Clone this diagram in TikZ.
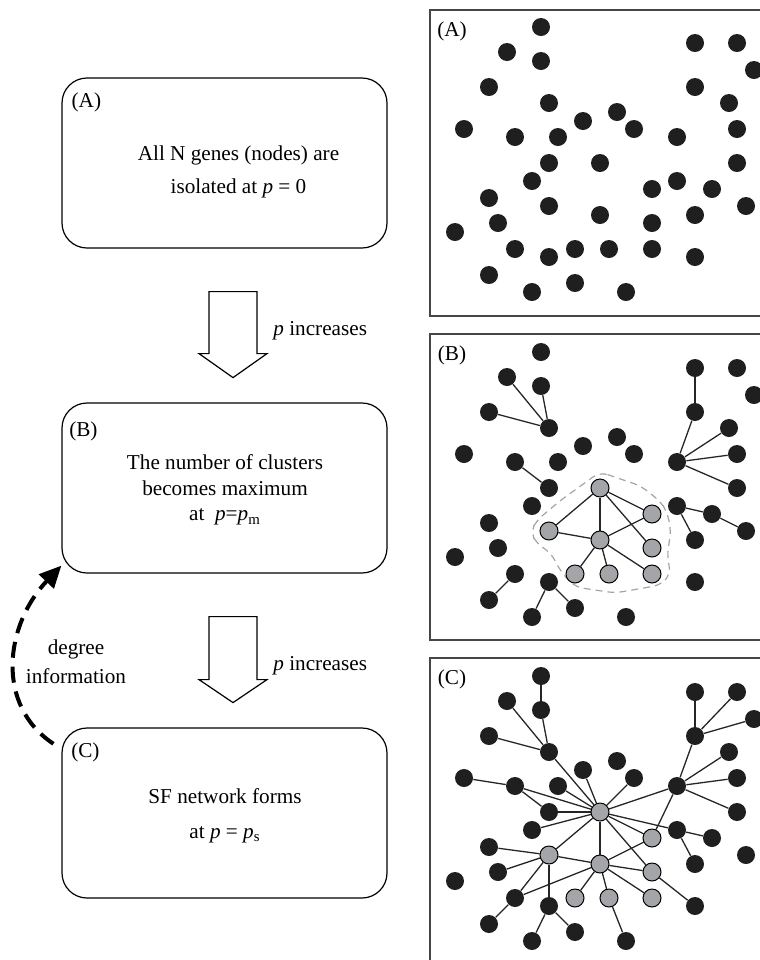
\documentclass[tikz,border=0pt]{standalone}
\usepackage{fontspec}
\setmainfont{Liberation Serif}
\usetikzlibrary{arrows.meta, positioning, backgrounds, calc}
\definecolor{grisNodo}{RGB}{163,165,168}
\definecolor{grisMarco}{RGB}{70,70,70}
\definecolor{grisCasco}{RGB}{165,165,165}
% posiciones de los genes (en px de la figura, panel A)
\newcommand{\genesNegros}{1/541/27, 2/507/52, 3/541/61, 4/695/43, 5/737/43,
  6/754/70, 7/489/87, 8/695/87, 9/549/103, 10/729/103, 11/617/112,
  12/583/121, 13/464/129, 14/634/129, 15/737/129, 16/515/137, 17/558/137,
  18/677/137, 19/549/163, 21/737/163, 22/532/181, 23/677/181, 25/712/189,
  26/489/198, 28/746/206, 30/695/215, 31/498/223, 33/455/232, 34/515/249,
  38/549/257, 39/695/257, 40/489/275, 41/575/283, 42/532/292, 43/626/292}
\newcommand{\genesGrises}{20/600/163, 24/652/189, 27/549/206, 29/600/215,
  32/652/223, 35/575/249, 36/609/249, 37/652/249}
\tikzset{
  sf/box/.style={rectangle, rounded corners=12.5pt, draw=black,
    line width=0.6pt, minimum width=162.5pt, minimum height=85pt},
  sf/txt/.style={font=\fontsize{10.6}{16.5}\selectfont, align=center,
    inner sep=0pt},
  sf/tag/.style={font=\fontsize{10.6}{12}\selectfont, inner sep=0pt},
  sf/gene/.style={circle, fill=black!88, inner sep=0pt, minimum size=9pt},
  sf/hub/.style={circle, fill=grisNodo, draw=black, line width=0.5pt,
    inner sep=0pt, minimum size=9pt},
  sf/link/.style={line width=0.65pt, draw=black!85},
  sf/panel/.style={draw=grisMarco, line width=0.6pt},
  sf/hull/.style={draw=grisCasco, line width=0.6pt,
    dash pattern=on 3.5pt off 2.5pt, rounded corners=4pt},
  sf/fat/.style={draw=black, fill=white, line width=0.6pt},
  sf/back/.style={-{Triangle[length=11pt,width=10pt]}, line width=2pt,
    dash pattern=on 8pt off 4.5pt}
}

\begin{document}
\begin{tikzpicture}[x=0.5pt, y=-0.5pt]
  \useasboundingbox (0,0) rectangle (760,960);

  % Columna izquierda: tres etapas
  \node[sf/box] at (224.5,163) (boxA) {};
  \node[sf/box] at (224.5,488) (boxB) {};
  \node[sf/box] at (224.5,813) (boxC) {};

  \node[sf/tag] at ($(boxA.north west)+(25,25)$) (tagBoxA) {(A)};
  \node[sf/tag] at ($(boxB.north west)+(22,29)$) (tagBoxB) {(B)};
  \node[sf/tag] at ($(boxC.north west)+(24,25)$) (tagBoxC) {(C)};

  \node[sf/txt] at ($(boxA.center)+(14,9)$) (txtA)
        {All N genes (nodes) are\\isolated at \textit{p} = 0};
  \node[sf/txt, font=\fontsize{10.6}{12.8}\selectfont]
        at ($(boxB.center)+(0.5,2)$) (txtB)
        {The number of clusters\\becomes maximum\\
         at\ \ \textit{p}=\textit{p}\textsubscript{m}};
  \node[sf/txt, font=\fontsize{10.6}{17.5}\selectfont]
        at ($(boxC.center)+(0.5,2.5)$) (txtC)
        {SF network forms\\at \textit{p} = \textit{p}\textsubscript{s}};

  % Flechas gruesas entre etapas
  \coordinate (arrAB) at ($(boxA.south)+(8.5,43)$);
  \coordinate (arrBC) at ($(boxB.south)+(8.5,43)$);
  \draw[sf/fat] (arrAB) ++(-24,0) -- ++(48,0) -- ++(0,62) -- ++(10,0)
        -- ++(-34,24) -- ++(-34,-24) -- ++(10,0) -- cycle;
  \draw[sf/fat] (arrBC) ++(-24,0) -- ++(48,0) -- ++(0,63) -- ++(10,0)
        -- ++(-34,23) -- ++(-34,-23) -- ++(10,0) -- cycle;
  \node[sf/tag, anchor=west] at ($(arrAB)+(40,39)$) (incAB)
        {\textit{p} increases};
  \node[sf/tag, anchor=west] at ($(arrBC)+(40,49)$) (incBC)
        {\textit{p} increases};

  % Retroalimentacion (C) -> (B)
  \draw[sf/back] ([xshift=-4pt]boxC.157) .. controls (-5,705) and (5,625)
        .. ([yshift=4pt]boxB.south west);
  \node[sf/txt, font=\fontsize{10.6}{14.5}\selectfont] at (76,662) (infoLbl)
        {degree\\information};

  % Columna derecha: marcos de los paneles
  \draw[sf/panel] (430,10) rectangle (800,316);
  \draw[sf/panel] (430,334) rectangle (800,640);
  \draw[sf/panel] (430,658) rectangle (800,1000);
  \node[sf/tag] at (452,31) (tagA) {(A)};
  \node[sf/tag] at (452,355) (tagB) {(B)};
  \node[sf/tag] at (452,679) (tagC) {(C)};

  % Panel A: genes aislados
  \foreach \i/\x/\y in \genesNegros {\node[sf/gene] (a\i) at (\x,\y) {};}
  \foreach \i/\x/\y in \genesGrises {\node[sf/gene] (a\i) at (\x,\y) {};}

  % Panel B: maximo de clusters
  \begin{scope}[shift={(0,325)}]
    \foreach \i/\x/\y in \genesNegros {\node[sf/gene] (b\i) at (\x,\y) {};}
    \foreach \i/\x/\y in \genesGrises {\node[sf/hub] (b\i) at (\x,\y) {};}
    \begin{scope}[on background layer]
      \foreach \u/\v in {9/2, 9/3, 9/7, 8/4, 18/8, 18/10, 18/15, 18/21,
          16/19, 23/25, 23/30, 25/28, 20/27, 20/29, 20/24, 20/32, 27/29,
          29/24, 29/35, 29/36, 29/37, 34/40, 38/42, 38/41}
        \draw[sf/link] (b\u) -- (b\v);
      \draw[sf/hull] (600,147) -- (641,161) -- (661,177) -- (667,187)
        -- (671,205) -- (667,232) -- (671,248) -- (661,260) -- (615,268)
        -- (575,262) -- (561,247) -- (551,228) -- (536,218) -- (531,207)
        -- (536,196) -- (561,175) -- cycle;
    \end{scope}
  \end{scope}

  % Panel C: red libre de escala
  \begin{scope}[shift={(0,649)}]
    \foreach \i/\x/\y in \genesNegros {\node[sf/gene] (c\i) at (\x,\y) {};}
    \foreach \i/\x/\y in \genesGrises {\node[sf/hub] (c\i) at (\x,\y) {};}
    \begin{scope}[on background layer]
      \foreach \u/\v in {1/3, 9/2, 9/3, 9/7, 9/20, 8/4, 8/5, 8/6, 8/18,
          18/10, 18/15, 18/21, 18/20, 18/24, 13/16, 16/19, 16/20, 17/20,
          12/20, 14/20, 19/20, 22/20, 20/23, 20/24, 23/25, 23/30, 20/29,
          20/27, 20/32, 29/24, 27/29, 29/32, 29/37, 29/36, 29/35, 29/34,
          27/26, 27/31, 27/34, 27/38, 34/40, 38/42, 38/41, 36/43, 32/39}
        \draw[sf/link] (c\u) -- (c\v);
    \end{scope}
  \end{scope}
\end{tikzpicture}
\end{document}
